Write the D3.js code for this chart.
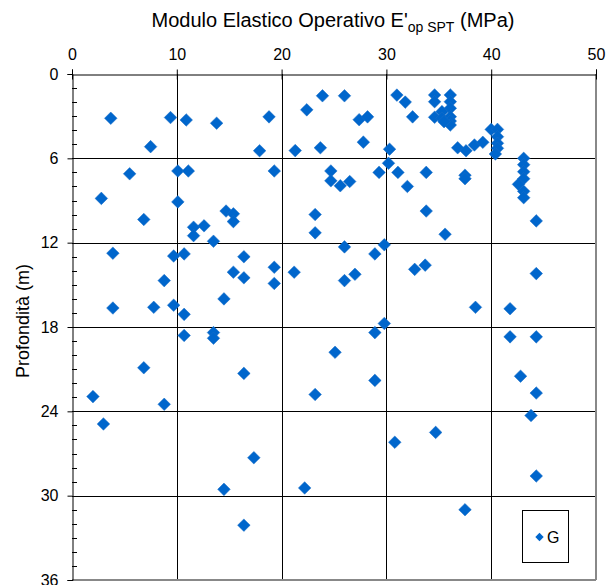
<!DOCTYPE html>
<html><head><meta charset="utf-8">
<script src="https://cdn.jsdelivr.net/npm/d3@7"></script>
<style>body{margin:0;background:#fff}svg{display:block}text{font-family:"Liberation Sans",Arial,sans-serif;fill:#000}</style>
</head><body>
<script>
const xTicks = [0,10,20,30,40,50];
const yTicks = [0,6,12,18,24,30,36];
const seriesName = "G";
// Modulo elastico (MPa)
const modulus = [
 3.7,9.4,10.9,13.8,7.5,17.9,5.5,10.1,11.1,2.8,10.1,6.85,14.7,15.4,15.4,11.6,12.6,11.6,13.5,
 3.9,9.7,10.7,16.4,15.4,16.4,8.8,14.5,3.9,7.8,9.7,10.7,10.7,13.5,13.5,6.85,16.4,2.0,8.8,3.0,17.35,14.5,16.4,
 18.8,23.9,26.0,22.4,21.3,23.7,27.4,28.2,27.8,30.3,31.0,31.8,32.5,
 19.3,24.7,24.7,25.6,26.5,29.3,30.2,31.1,33.8,32.0,23.2,23.2,33.8,35.6,
 26.0,29.8,19.3,19.3,21.2,28.9,26.0,27.0,32.7,33.7,29.8,28.9,25.1,28.9,23.2,22.2,30.8,34.7,
 34.6,34.6,36.1,36.1,36.1,34.6,35.3,35.3,36.1,36.1,36.1,35.5,36.8,37.6,38.4,39.2,40.0,40.6,40.6,40.6,40.6,40.4,
 37.5,37.5,43.1,43.1,43.1,43.1,42.6,43.1,43.1,44.3,
 44.3,38.5,41.8,41.8,44.3,42.8,44.3,43.8,44.3,37.5
];
// Profondità (m)
const depth = [
 3.15,3.1,3.27,3.5,5.17,5.46,7.1,6.9,6.9,8.85,9.1,10.35,9.75,9.95,10.5,10.9,10.8,11.5,11.9,
 12.75,12.95,12.8,13.0,14.1,14.5,14.7,16.0,16.65,16.6,16.45,17.1,18.6,18.4,18.8,20.9,21.3,22.95,23.5,24.9,27.3,29.55,32.1,
 3.05,1.55,1.55,2.55,5.45,5.25,3.25,3.05,4.85,5.35,1.5,2.0,3.05,
 6.9,6.9,7.6,7.95,7.65,7.0,6.35,7.0,7.0,8.0,10.0,11.3,9.75,11.4,
 12.3,12.15,13.75,14.9,14.1,12.8,14.7,14.25,13.9,13.6,17.75,18.4,19.8,21.8,22.8,29.45,26.2,25.5,
 1.49,1.97,1.49,1.97,2.44,3.08,2.68,3.15,3.04,3.35,3.63,3.39,5.25,5.46,5.05,4.86,3.94,3.94,4.46,4.93,5.29,5.69,
 7.2,7.45,6.0,6.45,6.95,7.45,7.85,8.35,8.8,10.45,
 14.2,16.6,16.7,18.7,18.7,21.5,22.7,24.3,28.6,31.0
];

const W = 608, H = 585;
const L = 72, R = 596, T = 74, B = 580;
const svg = d3.select("body").append("svg").attr("width", W).attr("height", H);
const x = d3.scaleLinear().domain([0,50]).range([L,R]);
const y = d3.scaleLinear().domain([0,36]).range([T,B]);

// grid
const g = svg.append("g");
g.selectAll("line.v").data(xTicks.slice(1,-1)).join("line")
 .attr("x1", d => Math.round(x(d))+0.5).attr("x2", d => Math.round(x(d))+0.5)
 .attr("y1", T).attr("y2", B).attr("stroke", "#000").attr("stroke-width", 1);
g.selectAll("line.h").data(yTicks.slice(1,-1)).join("line")
 .attr("y1", d => Math.round(y(d))+0.5).attr("y2", d => Math.round(y(d))+0.5)
 .attr("x1", L).attr("x2", R).attr("stroke", "#000").attr("stroke-width", 1);
// right/bottom border (gray)
svg.append("line").attr("x1", R).attr("x2", R).attr("y1", T).attr("y2", B).attr("stroke", "#888").attr("stroke-width", 2);
svg.append("line").attr("x1", L).attr("x2", R).attr("y1", B).attr("y2", B).attr("stroke", "#888").attr("stroke-width", 2);

// top axis
const xAxis = d3.axisTop(x).tickValues(xTicks).tickSize(5).tickPadding(10).tickFormat(d3.format("d"));
const ga = svg.append("g").attr("transform", `translate(0,${T+0.5})`).call(xAxis);
ga.select(".domain").attr("stroke", "#000");
ga.selectAll(".tick line").attr("y2", -5).attr("y1", 5).attr("stroke", "#000");
ga.selectAll(".tick text").style("font-size", "16px").attr("font-family", "Liberation Sans, Arial, sans-serif");
// left axis major
const yAxis = d3.axisLeft(y).tickValues(yTicks).tickSize(5).tickPadding(9).tickFormat(d3.format("d"));
const gl = svg.append("g").attr("transform", `translate(${L+0.5},0)`).call(yAxis);
gl.select(".domain").attr("stroke", "#000");
gl.selectAll(".tick text").style("font-size", "16px").attr("font-family", "Liberation Sans, Arial, sans-serif");
// left minor ticks (inside)
const minor = d3.range(1,36).filter(v => v % 6 !== 0);
svg.append("g").selectAll("line").data(minor).join("line")
 .attr("x1", L).attr("x2", L+5)
 .attr("y1", d => Math.round(y(d))+0.5).attr("y2", d => Math.round(y(d))+0.5)
 .attr("stroke", "#000");

// points
const pts = modulus.map((m,i) => ({m, d: depth[i]}));
const diamond = "M0,-6.3L6.3,0L0,6.3L-6.3,0Z";
svg.append("g").selectAll("path").data(pts).join("path")
 .attr("d", diamond)
 .attr("transform", p => `translate(${x(p.m)},${y(p.d)})`)
 .attr("fill", "#0066CC").attr("stroke", "#1a6fc6").attr("stroke-width", 0.5);

// title
const title = svg.append("text").attr("x", 333).attr("y", 27).attr("text-anchor", "middle").style("font-size", "20px");
title.append("tspan").text("Modulo Elastico Operativo E'");
title.append("tspan").attr("dy", 5).style("font-size", "14px").text("op SPT");
title.append("tspan").attr("dy", -5).text(" (MPa)");

// y label
svg.append("text").attr("transform", `translate(29,${(T+B)/2-6}) rotate(-90)`)
 .attr("text-anchor", "middle").style("font-size", "18px").text("Profondità (m)");

// legend
const lg = svg.append("g");
lg.append("rect").attr("x", 522.5).attr("y", 510.5).attr("width", 46).attr("height", 52)
 .attr("fill", "#fff").attr("stroke", "#000");
lg.append("path").attr("d", "M0,-4.2L4.2,0L0,4.2L-4.2,0Z").attr("transform", "translate(539.5,537)").attr("fill", "#0066CC");
lg.append("text").attr("x", 547).attr("y", 543).style("font-size", "16px").text(seriesName);
</script>
</body></html>
